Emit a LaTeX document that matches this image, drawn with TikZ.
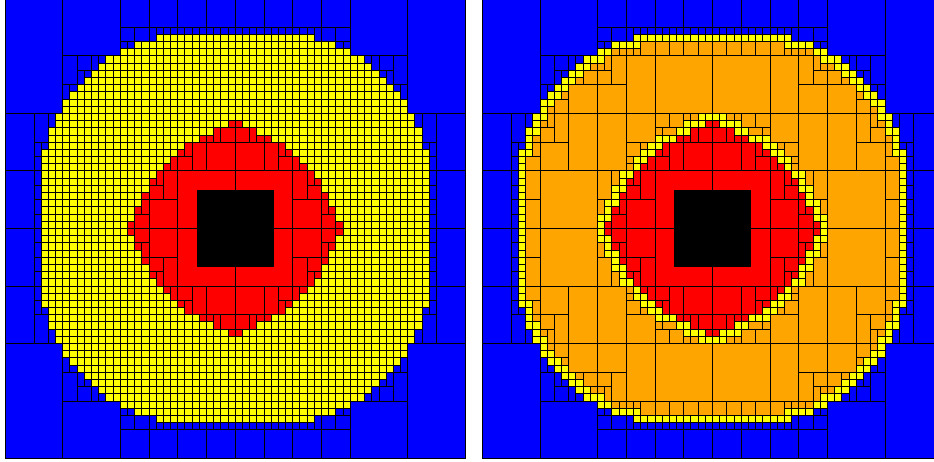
\documentclass[tikz,border=0pt]{standalone}
\definecolor{myblue}{RGB}{0,0,255}
\definecolor{myyel}{RGB}{255,255,0}
\definecolor{myred}{RGB}{255,0,0}
\definecolor{myor}{RGB}{255,165,0}
\tikzset{gridline/.style={black,line width=1pt},
 celline/.style={black,line width=1pt,line join=miter}}
\newcommand{\quadscope}[1]{%
 \foreach \sx in {1,-1}{\foreach \sy in {1,-1}{%
  \begin{scope}[shift={(\cx,228.5)},xscale=\sx*7.1875,yscale=\sy*7.1875,shift={(-32,32)},yscale=-1]
  #1
  \end{scope}}}}
\newcommand{\redstarts}{17/31,18/29,19/27,20/25,21/24,22/23,23/22,24/21,25/20,26/20,27/19,28/19,29/18,30/18,31/17}
\newcommand{\yelstarts}{5/21,6/18,7/16,8/14,9/13,10/12,11/11,12/10,13/9,14/8,15/8,16/7,17/7,18/6,19/6,20/6,21/5,22/5,23/5,24/5,25/5,26/5,27/5,28/5,29/5,30/5,31/5}
\newcommand{\orstarts}{6/22,7/18,8/17,9/15,10/14,11/13,12/12,13/11,14/10,15/9,16/9,17/8,18/8,19/7,20/7,21/7,22/6,23/6,24/6,25/6,26/6,27/6,28/6,29/6,30/6,31/6}
\newcommand{\instarts}{16/30,17/28,18/27,19/24,20/23,21/22,22/21,23/21,24/19,25/19,26/18,27/18,28/17,29/17,30/16,31/16}
\newcommand{\fillrows}[2]{\foreach \r/\a in #1{\fill[#2] (\a,\r) rectangle (32,\r+1.03);}}
%% each yellow cell draws its top and its left edge only, so that no line is laid twice
\newcommand{\cells}[1]{\foreach \r/\a/\b in {#1}{\pgfmathtruncatemacro\e{\b-1}\foreach \c in {\a,...,\e}{\draw[celline] (\c,\r) ++(0,1) -- ++(0,-1) -- ++(1,0);}}}
\newcommand{\hlines}[1]{\foreach \r/\a/\b in {#1}{\draw[gridline] (\a,\r) -- (\b,\r);}}
\newcommand{\vlines}[1]{\foreach \c/\a/\b in {#1}{\draw[gridline] (\c,\a) -- (\c,\b);}}
\newcommand{\bluelines}{%
 \hlines{4/16/32,6/16/18,8/8/14,10/10/12,12/8/10,16/0/8,20/4/6,24/0/5,22/4/5,26/4/5,28/4/5,30/4/5}
 \vlines{8/0/16,16/0/8,20/0/6,24/0/4,28/0/4,18/4/6,17/6/7,10/8/12,12/8/10,13/8/9,11/10/11,9/12/13,4/16/32,6/16/18,5/20/21,21/4/5,22/4/5,23/4/5,24/4/5,25/4/5,26/4/5,27/4/5,28/4/5,29/4/5,30/4/5,31/4/5}}
\newcommand{\redlines}{%
 \hlines{17/31/32,18/29/32,19/27/29,20/25/32,21/24/25,22/23/26,23/22/23,24/21/32,25/20/21,26/20/22,27/19/20,28/19/24,29/18/19,30/18/20,31/17/18}
 \vlines{31/17/18,29/18/20,30/18/20,27/19/20,28/19/24,25/20/22,24/21/32,26/20/24,23/22/24,22/23/28,21/24/26,20/25/32,19/27/30,18/29/32,17/31/32}}
\newcommand{\orlines}{%
 \hlines{8/18/32,10/15/18,12/13/20,14/11/12,16/9/30,18/8/10,18/24/27,20/7/12,20/20/23,22/20/21,22/7/8,23/20/21,24/6/19,28/6/8,28/16/17,
 6/22/32,7/18/22,8/17/18,9/15/17,10/14/15,11/13/14,12/12/13,13/11/12,14/10/11,15/9/10,17/8/9,19/7/8,22/6/7}
 \vlines{22/7/8,24/6/8,26/6/8,28/6/8,30/6/8,18/8/12,19/7/8,20/7/24,21/7/8,24/8/20,17/9/10,16/9/30,14/11/12,12/13/24,10/15/20,9/17/18,8/19/32,26/16/18,28/16/17,29/16/17,25/18/19,22/20/21,18/24/26,
 22/6/7,18/7/8,17/8/9,15/9/10,14/10/11,13/11/12,12/12/13,11/13/14,10/14/15,9/15/17,8/17/19,7/19/22,6/22/32}}
\begin{document}
\begin{tikzpicture}[x=1pt,y=1pt]
\useasboundingbox (0,0) rectangle (934,461);
\clip (0,0) rectangle (934,461);
\begin{scope}[yscale=-1,yshift=-461pt]
%% ---------- left panel
\def\cx{235.3}
\fill[myblue] (5.3,-1.5) rectangle (465.3,458.5);
\quadscope{\fillrows{\yelstarts}{myyel}\fillrows{\redstarts}{myred}}
\quadscope{\bluelines\redlines
 \cells{5/21/32,6/18/32,7/16/32,8/14/32,9/13/32,10/12/32,11/11/32,12/10/32,13/9/32,14/8/32,15/8/32,16/7/32,17/7/31,18/6/29,19/6/27,20/6/25,21/5/24,22/5/23,23/5/22,24/5/21,25/5/20,26/5/20,27/5/19,28/5/19,29/5/18,30/5/18,31/5/17}}
\draw[gridline] (235.3,-1.5) -- (235.3,458.5) (5.3,228.5) -- (465.3,228.5);
\draw[gridline] (5.3,-1.5) rectangle (465.3,458.5);
\fill[black] (196.97,190.17) rectangle (273.63,266.83);
%% ---------- right panel
\def\cx{712.5}
\fill[myblue] (482.5,-1.5) rectangle (942.5,458.5);
\quadscope{\fillrows{\yelstarts}{myyel}
 \fillrows{\orstarts}{myor}
 \fillrows{\instarts}{myyel}
 \fillrows{\redstarts}{myred}}
\quadscope{\bluelines\orlines\redlines
 \cells{5/21/32,6/18/22,7/16/18,8/14/17,9/13/15,10/12/14,11/11/13,12/10/12,13/9/11,14/8/10,15/8/9,16/7/9,17/7/8,18/6/8,19/6/7,20/6/7,21/5/7,22/5/6,23/5/6,24/5/6,25/5/6,26/5/6,27/5/6,28/5/6,29/5/6,30/5/6,31/5/6}
 \cells{16/30/32,17/28/31,18/27/29,19/24/27,20/23/25,21/22/24,22/21/23,23/21/22,24/19/21,25/19/20,26/18/20,27/18/19,28/17/19,29/17/18,30/16/18,31/16/17}}
\draw[gridline] (712.5,-1.5) -- (712.5,458.5) (482.5,228.5) -- (942.5,228.5);
\draw[gridline] (482.5,-1.5) rectangle (942.5,458.5);
\fill[black] (674.17,190.17) rectangle (750.83,266.83);
\end{scope}
\end{tikzpicture}
\end{document}
